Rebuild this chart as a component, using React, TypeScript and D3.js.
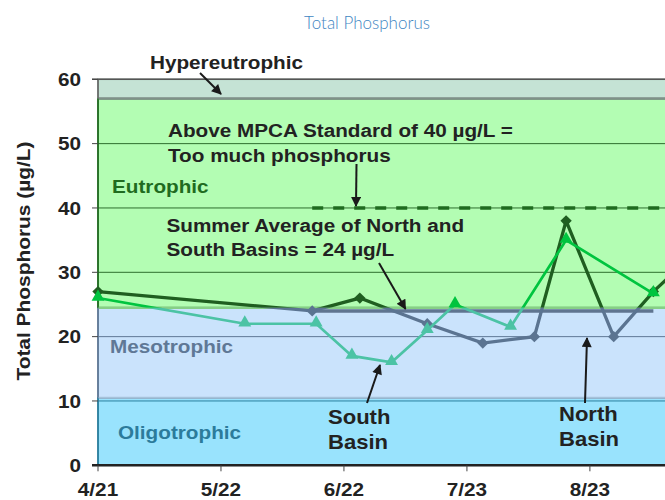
import React from 'react';
import * as d3 from 'd3';

// ---------- DATA ----------
const YEAR = 2009;
const xTickLabels = ['4/21', '5/22', '6/22', '7/23', '8/23'];
const yTickValues = [0, 10, 20, 30, 40, 50, 60];

const northDates = ['4/21', '6/14', '6/26', '7/13', '7/27', '8/9', '8/17', '8/29', '9/8', '9/22'];
const northValues = [27, 24, 26, 22, 19, 20, 38, 20, 27, 35];

const southDates = ['4/21', '5/28', '6/15', '6/24', '7/4', '7/13', '7/20', '8/3', '8/17', '9/8'];
const southValues = [26, 22, 22, 17, 16, 21, 25, 21.5, 35, 26.7];

const bandNames = ['Oligotrophic', 'Mesotrophic', 'Eutrophic', 'Hypereutrophic'];
const bandLower = [0, 10.5, 24.5, 57];
const bandUpper = [10.5, 24.5, 57, 60];

const standardValue = 40;
const standardFrom = '6/14';
const summerAverage = 24;
const summerAvgFrom = '6/14';
const summerAvgTo = '9/8';

// ---------- LAYOUT / STYLE ----------
const W = 665;
const H = 500;
const left = 98;
const bottom = 465.3;
const top = 79.3;
const FONT = "'Liberation Sans', Arial, Helvetica, sans-serif";
const SX = 1.12;

const parse = d3.timeParse('%m/%d/%Y');
const dt = (s: string) => parse(`${s}/${YEAR}`) as Date;

const x = d3.scaleTime().domain([dt('4/21'), dt('8/23')]).range([left, 589.9]);
const y = d3.scaleLinear().domain([0, 60]).range([bottom, top]);
const right = W + 10;

const bandFill = ['#99e3fd', '#cae3fc', '#b3fdb3', '#c5e3d5'];
const bandStroke = ['#2b7f9e', '#5f7896', '#2a6e2a', '#7f9189'];
const bandLabelColor = ['#2c7b9b', '#5f7896', '#1f6b1f', '#222'];

const threshold = 24.5;
const northAbove = '#1f5e20';
const northBelow = '#5b7491';
const southAbove = '#00c43f';
const southBelow = '#4cc3a5';

type TProps = {
  x: number; y: number; children: React.ReactNode; size?: number; sx?: number;
  anchor?: string; fill?: string; weight?: number | string; rotate?: number; family?: string;
};
const T = ({ x, y, children, size = 18.5, sx = SX, anchor = 'start', fill = '#222', weight = 700, rotate = 0, family = FONT }: TProps) => (
  <text
    transform={`translate(${x},${y}) rotate(${rotate}) scale(${sx},1)`}
    fontSize={size}
    fontWeight={weight}
    textAnchor={anchor as any}
    fill={fill}
    fontFamily={family}
  >
    {children}
  </text>
);

const Arrow = ({ x1, y1, x2, y2 }: { x1: number; y1: number; x2: number; y2: number }) => (
  <line x1={x1} y1={y1} x2={x2} y2={y2} stroke="#1a1a1a" strokeWidth={2} markerEnd="url(#ah)" />
);

export default function App() {
  const north = northDates.map((s, i) => ({ date: dt(s), value: northValues[i] }));
  const south = southDates.map((s, i) => ({ date: dt(s), value: southValues[i] }));
  const line = d3
    .line<{ date: Date; value: number }>()
    .x((p) => x(p.date))
    .y((p) => y(p.value));

  const diamond = d3.symbol().type(d3.symbolSquare).size(64)()!;
  const triangle = d3.symbol().type(d3.symbolTriangle).size(72)()!;
  const yT = y(threshold);

  return (
    <div style={{ position: 'fixed', left: 0, top: 0 }}>
      <svg width={W} height={H} style={{ display: 'block', background: '#fff' }}>
        <defs>
          <clipPath id="above">
            <rect x={0} y={0} width={W} height={yT} />
          </clipPath>
          <clipPath id="below">
            <rect x={0} y={yT} width={W} height={H - yT} />
          </clipPath>
          <marker id="ah" viewBox="0 0 10 10" refX={9} refY={5} markerUnits="userSpaceOnUse" markerWidth={11} markerHeight={10} orient="auto">
            <path d="M0,0 L10,5 L0,10 z" fill="#1a1a1a" />
          </marker>
        </defs>

        {/* title */}
        <text x={367} y={29} textAnchor="middle" fontFamily="Lato, 'Open Sans', sans-serif" fontWeight={300} fontSize={18.5} fill="#3f86c2" textLength={126} lengthAdjust="spacingAndGlyphs">
          Total Phosphorus
        </text>

        {/* bands */}
        {bandNames.map((n, i) => (
          <rect
            key={n}
            x={left}
            y={y(bandUpper[i])}
            width={right - left}
            height={y(bandLower[i]) - y(bandUpper[i])}
            fill={bandFill[i]}
            stroke={bandStroke[i]}
            strokeWidth={1.5}
          />
        ))}
        {/* band boundaries */}
        <line x1={left} x2={right} y1={y(57)} y2={y(57)} stroke="#7f9189" strokeWidth={2.5} />
        <line x1={left} x2={right} y1={y(24.5)} y2={y(24.5)} stroke="#86cf86" strokeWidth={2.5} />
        <line x1={left} x2={right} y1={y(10.5)} y2={y(10.5)} stroke="#a6c2da" strokeWidth={2} />

        {/* gridlines */}
        {yTickValues.filter((v) => v > 0 && v < 60).map((v) => (
          <line key={v} x1={left} x2={right} y1={y(v)} y2={y(v)} stroke={v >= 30 ? '#2e6e2e' : v >= 20 ? '#5f7896' : '#2b7f9e'} strokeWidth={1} />
        ))}

        {/* left axis edge */}
        <line x1={left} x2={left} y1={y(60)} y2={y(57)} stroke="#666" strokeWidth={1.5} />
        <line x1={left} x2={left} y1={y(57)} y2={y(24.5)} stroke="#1f6b1f" strokeWidth={1.5} />
        <line x1={left} x2={left} y1={y(24.5)} y2={y(10.5)} stroke="#5f7896" strokeWidth={1.5} />
        <line x1={left} x2={left} y1={y(10.5)} y2={y(0)} stroke="#2b7f9e" strokeWidth={1.5} />
        {/* top edge */}
        <line x1={left - 6} x2={right} y1={y(60)} y2={y(60)} stroke="#555" strokeWidth={1.5} />

        {/* y ticks & labels */}
        {yTickValues.map((v) => (
          <g key={v}>
            <line x1={left - 6} x2={left} y1={y(v)} y2={y(v)} stroke="#444" strokeWidth={1} />
            <T x={81} y={y(v) + 6.8} anchor="end">{v}</T>
          </g>
        ))}
        {/* x axis */}
        <line x1={left - 6} x2={right} y1={bottom} y2={bottom} stroke="#222" strokeWidth={2.5} />
        {xTickLabels.map((s) => (
          <g key={s}>
            <line x1={x(dt(s))} x2={x(dt(s))} y1={bottom} y2={bottom + 6} stroke="#444" strokeWidth={1} />
            <T x={x(dt(s))} y={496} anchor="middle">{s}</T>
          </g>
        ))}

        {/* y axis title */}
        <T x={30} y={261} anchor="middle" rotate={-90} size={19} sx={1.1}>Total Phosphorus (µg/L)</T>

        {/* reference lines */}
        <line
          x1={x(dt(standardFrom))}
          x2={right}
          y1={y(standardValue)}
          y2={y(standardValue)}
          stroke="#1f6b1f"
          strokeWidth={3.5}
          strokeDasharray="11,10"
        />
        <line
          x1={x(dt(summerAvgFrom))}
          x2={x(dt(summerAvgTo))}
          y1={y(summerAverage)}
          y2={y(summerAverage)}
          stroke="#5f7590"
          strokeWidth={3.5}
        />

        {/* band labels */}
        <T x={150} y={69} fill={bandLabelColor[3]}>{bandNames[3]}</T>
        <T x={112} y={193} fill={bandLabelColor[2]}>{bandNames[2]}</T>
        <T x={110} y={352.5} fill={bandLabelColor[1]}>{bandNames[1]}</T>
        <T x={118} y={439} fill={bandLabelColor[0]}>{bandNames[0]}</T>

        {/* annotations */}
        <T x={168} y={137}>Above MPCA Standard of 40 µg/L =</T>
        <T x={168} y={161.5}>Too much phosphorus</T>
        <T x={166.5} y={232}>Summer Average of North and</T>
        <T x={166.5} y={256}>South Basins = 24 µg/L</T>
        <T x={328} y={424} size={21} sx={1.05}>South</T>
        <T x={328} y={449} size={21} sx={1.05}>Basin</T>
        <T x={559} y={421} size={21} sx={1.05}>North</T>
        <T x={559} y={446} size={21} sx={1.05}>Basin</T>

        <Arrow x1={200} y1={73} x2={221} y2={94} />
        <Arrow x1={356.5} y1={164} x2={356} y2={206} />
        <Arrow x1={379} y1={263} x2={405.5} y2={309} />
        <Arrow x1={367} y1={403} x2={380} y2={365} />
        <Arrow x1={585} y1={403} x2={587} y2={338} />

        {/* North basin line */}
        <path d={line(north)!} fill="none" stroke={northAbove} strokeWidth={3.3} clipPath="url(#above)" />
        <path d={line(north)!} fill="none" stroke={northBelow} strokeWidth={3.3} clipPath="url(#below)" />
        {north.map((p, i) => (
          <path
            key={'n' + i}
            d={diamond}
            transform={`translate(${x(p.date)},${y(p.value)}) rotate(45)`}
            fill={p.value >= threshold ? northAbove : northBelow}
          />
        ))}

        {/* South basin line */}
        <path d={line(south)!} fill="none" stroke={southAbove} strokeWidth={2.7} clipPath="url(#above)" />
        <path d={line(south)!} fill="none" stroke={southBelow} strokeWidth={2.7} clipPath="url(#below)" />
        {south.map((p, i) => (
          <path
            key={'s' + i}
            d={triangle}
            transform={`translate(${x(p.date)},${y(p.value) - 1})`}
            fill={p.value >= threshold ? southAbove : southBelow}
          />
        ))}
      </svg>
    </div>
  );
}
